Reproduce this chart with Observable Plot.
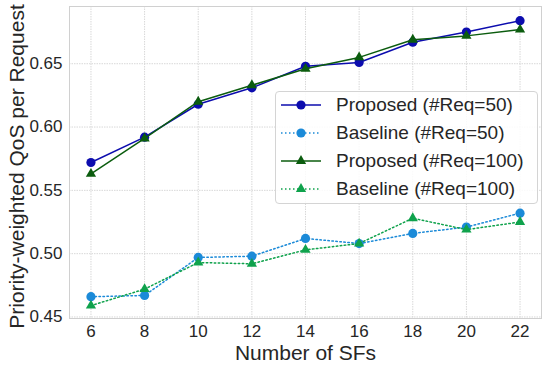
<!DOCTYPE html>
<html>
<head>
<meta charset="utf-8">
<script src="https://cdn.jsdelivr.net/npm/d3@7"></script>
<script src="https://cdn.jsdelivr.net/npm/@observablehq/plot@0.6"></script>
<style>
  html, body { margin: 0; padding: 0; background: #fff; }
  #wrap { position: relative; width: 548px; height: 369px; font-family: "Liberation Sans", Arial, sans-serif; }
  #legend { position: absolute; left: 275px; top: 91px; width: 263px; height: 113px; box-sizing: border-box;
    border: 1px solid #d4d4d4; border-radius: 4px; background: rgba(255,255,255,0.85); }
  .row { position: absolute; left: 5px; height: 24px; display: flex; align-items: center; }
  .row span { font-size: 19px; color: #262626; margin-left: 14px; white-space: nowrap; }
</style>
</head>
<body>
<div id="wrap"><div id="chart"></div><div id="legend"></div></div>
<script>
const sfs = [6, 8, 10, 12, 14, 16, 18, 20, 22];
const proposed50  = [0.572, 0.592, 0.618, 0.631, 0.648, 0.651, 0.667, 0.675, 0.684];
const baseline50  = [0.466, 0.467, 0.497, 0.498, 0.512, 0.508, 0.516, 0.521, 0.532];
const proposed100 = [0.563, 0.591, 0.620, 0.633, 0.646, 0.655, 0.669, 0.672, 0.677];
const baseline100 = [0.459, 0.472, 0.493, 0.492, 0.503, 0.508, 0.528, 0.519, 0.525];
const seriesNames = ["Proposed (#Req=50)", "Baseline (#Req=50)", "Proposed (#Req=100)", "Baseline (#Req=100)"];
const seriesValues = [proposed50, baseline50, proposed100, baseline100];
const seriesColors = ["#0c0cae", "#1b8ad8", "#0b5c0e", "#0fa24c"];
const seriesSymbols = ["circle", "circle", "triangle", "triangle"];
const seriesDash = [null, "1.5,2.5", null, "1.5,2.5"];
const xTicks = [6, 8, 10, 12, 14, 16, 18, 20, 22];
const yTicks = [0.45, 0.50, 0.55, 0.60, 0.65];
const xLabel = "Number of SFs";
const yLabel = "Priority-weighted QoS per Request";

const series = seriesNames.map((name, i) => ({
  name, color: seriesColors[i], symbol: seriesSymbols[i], dash: seriesDash[i],
  data: sfs.map((x, j) => ({x, y: seriesValues[i][j]}))
}));

const marks = [
  Plot.gridX(xTicks, {stroke: "#d8d8d8", strokeOpacity: 1, strokeDasharray: "1.5,1"}),
  Plot.gridY(yTicks, {stroke: "#d8d8d8", strokeOpacity: 1, strokeDasharray: "1.5,1"}),
  Plot.frame({stroke: "#d0d0d0"}),
  Plot.axisX(xTicks, {tickSize: 0, tickPadding: 6, fontSize: 17, label: null, fill: "#262626"}),
  Plot.axisY(yTicks, {tickSize: 0, tickPadding: 7, fontSize: 17, label: null, tickFormat: d3.format(".2f"), fill: "#262626"}),
  Plot.text([yLabel], {frameAnchor: "left", dx: -52, dy: 4, rotate: -90, textAnchor: "middle", lineAnchor: "middle", fontSize: 21, fill: "#262626"}),
  Plot.text([xLabel], {frameAnchor: "bottom", dy: 35, textAnchor: "middle", lineAnchor: "middle", fontSize: 21, fill: "#262626"})
];
for (const s of series) {
  marks.push(Plot.line(s.data, {x: "x", y: "y", stroke: s.color, strokeWidth: 1.5, strokeDasharray: s.dash}));
  marks.push(Plot.dot(s.data, {x: "x", y: "y", fill: s.color, stroke: "none", symbol: () => s.symbol, r: s.symbol === "circle" ? 4.6 : 3.8}));
}

const chart = Plot.plot({
  width: 548, height: 369,
  marginLeft: 69, marginRight: 7, marginTop: 6, marginBottom: 51,
  style: {fontFamily: '"Liberation Sans", Arial, sans-serif', background: "#fff"},
  x: {domain: [5.2, 22.8]},
  y: {domain: [0.4488, 0.6952]},
  symbol: {type: "identity"},
  marks
});
document.getElementById("chart").appendChild(chart);

// legend
const legend = document.getElementById("legend");
series.forEach((s, i) => {
  const row = document.createElement("div");
  row.className = "row";
  row.style.top = (1 + i * 28) + "px";
  const svg = d3.create("svg").attr("width", 41).attr("height", 24);
  svg.append("line").attr("x1", 0).attr("x2", 40).attr("y1", 12).attr("y2", 12)
    .attr("stroke", s.color).attr("stroke-width", 1.5).attr("stroke-dasharray", s.dash);
  const sym = s.symbol === "circle" ? d3.symbolCircle : d3.symbolTriangle;
  const r = s.symbol === "circle" ? 4.6 : 3.8;
  svg.append("path").attr("d", d3.symbol(sym, r * r * Math.PI)()).attr("transform", "translate(20,12)").attr("fill", s.color);
  row.appendChild(svg.node());
  const t = document.createElement("span");
  t.textContent = s.name;
  row.appendChild(t);
  legend.appendChild(row);
});
</script>
</body>
</html>
